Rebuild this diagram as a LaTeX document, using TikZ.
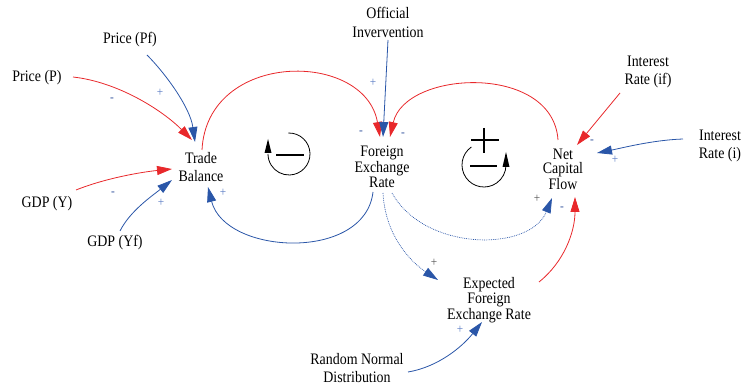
\documentclass[tikz,border=0pt]{standalone}
\usepackage{fontspec}
\setmainfont{Liberation Serif}[FakeStretch=0.87]
\usetikzlibrary{arrows.meta}
\definecolor{cdred}{HTML}{E8282B}
\definecolor{cdblue}{HTML}{2A56A8}
\definecolor{sgnblue}{HTML}{5B7CC4}
\definecolor{sgndark}{HTML}{3A5AA0}
\definecolor{sgngray}{HTML}{555555}
\begin{document}
\begin{tikzpicture}[x=1pt,y=1pt,
  lbl/.style={align=center, inner sep=0pt, text=black},
  f18/.style={font=\fontsize{16}{18}\selectfont},
  arr/.style={line width=0.8pt, -{Triangle[length=15pt,width=9pt]}},
  redarr/.style={arr, draw=cdred},
  bluearr/.style={arr, draw=cdblue},
  bluedot/.style={bluearr, densely dotted, line width=0.7pt},
  sgn/.style={inner sep=0pt, font=\fontsize{13}{13}\selectfont, text=sgnblue},
  sgnd/.style={sgn, text=sgndark},
  sgng/.style={sgn, text=sgngray},
  loopline/.style={line width=0.8pt, draw=black},
  bar/.style={line width=2pt, draw=black}
]
\useasboundingbox (0,0) rectangle (745,-385);

% variables
\node[lbl,f18] (pf) at (130,-40) {Price (Pf)};
\node[lbl,f18] (pp) at (37,-78) {Price (P)};
\node[lbl,f18] (tb) at (201,-167) {Trade\\Balance};
\node[lbl,f18] (gy) at (47,-204) {GDP (Y)};
\node[lbl,f18] (gyf) at (115,-243) {GDP (Yf)};
\node[lbl,font=\fontsize{16}{19}\selectfont] (oi) at (388,-22) {Official\\Invervention};
\node[lbl,font=\fontsize{16}{15.5}\selectfont] (fer) at (382,-167) {Foreign\\Exchange\\Rate};
\node[lbl,font=\fontsize{16}{14.5}\selectfont] (ncf) at (563,-169) {Net\\Capital\\Flow};
\node[lbl,f18] (irf) at (648,-72) {Interest\\Rate (if)};
\node[lbl,f18] (iri) at (720,-146) {Interest\\Rate (i)};
\node[lbl,font=\fontsize{16}{12.5}\selectfont] (efer) at (489,-300) {Expected\\Foreign\\Exchange Rate};
\node[lbl,f18] (rnd) at (357,-368) {Random Normal\\Distribution};

% connectors
\draw[redarr] ([shift={(36,1)}]pp.center) .. controls +(45,-5) and +(-30,30) .. ([shift={(-9,27)}]tb.center);
\draw[bluearr] ([shift={(17,-15)}]pf.center) .. controls +(18,-18) and +(-5,35) .. ([shift={(-6,25)}]tb.center);
\draw[redarr] ([shift={(29,14)}]gy.center) .. controls +(30,12) and +(-30,-3) .. ([shift={(-29,-2)}]tb.center);
\draw[bluearr] ([shift={(5,12)}]gyf.center) .. controls +(10,20) and +(-20,-16) .. ([shift={(-29,-13)}]tb.center);
\draw[redarr] ([shift={(1,17)}]tb.center) .. controls +(5,100) and +(-15,87) .. ([shift={(-2,30)}]fer.center);
\draw[bluearr] ([shift={(0,-18)}]oi.center) -- ([shift={(1,30)}]fer.center);
\draw[redarr] ([shift={(-5,29)}]ncf.center) .. controls +(-5,77) and +(15,67) .. ([shift={(8,30)}]fer.center);
\draw[bluearr] ([shift={(-9,-25)}]fer.center) .. controls +(-8,-70) and +(17,-68) .. ([shift={(7,-20)}]tb.center);
\draw[bluedot] ([shift={(10,-26)}]fer.center) .. controls +(33,-59) and +(-22,-54) .. ([shift={(-11,-29)}]ncf.center);
\draw[bluedot] ([shift={(1,-26)}]fer.center) .. controls +(2,-40) and +(-30,20) .. ([shift={(-51,20)}]efer.center);
\draw[redarr] ([shift={(50,18)}]efer.center) .. controls +(25,20) and +(0,-35) .. ([shift={(12,-28)}]ncf.center);
\draw[redarr] ([shift={(-28,-21)}]irf.center) -- ([shift={(14,24)}]ncf.center);
\draw[bluearr] ([shift={(-37,7)}]iri.center) .. controls +(-30,-1) and +(25,5) .. ([shift={(34,16)}]ncf.center);
\draw[bluearr] ([shift={(51,-4)}]rnd.center) .. controls +(30,5) and +(-20,-25) .. ([shift={(-7,-22)}]efer.center);

% polarity signs
\node[sgnd] (s1) at (112,-100) {-};
\node[sgn] (s2) at (160,-93) {+};
\node[sgnd] (s3) at (113,-194) {-};
\node[sgn] (s4) at (161,-203) {+};
\node[sgn] (s5) at (223,-193) {+};
\node[sgn] (s6) at (373,-83) {+};
\node[sgnd] (s7) at (361,-133) {-};
\node[sgnd] (s8) at (403,-135) {-};
\node[sgng] (s9) at (537,-199) {+};
\node[sgnd] (s10) at (562,-209) {-};
\node[sgng] (s11) at (434,-263) {+};
\node[sgnd] (s12) at (592,-142) {-};
\node[sgn] (s13) at (615,-160) {+};
\node[sgn] (s14) at (460,-330) {+};

% loop symbols
\coordinate (lc) at (289,-154);
\draw[loopline] (lc) ++(92:21) arc[start angle=92, end angle=-180, radius=21];
\fill[black] (264.5,-153) -- (268,-139) -- (271.5,-153) -- cycle;
\draw[bar] (276,-155) -- (304,-155);

\coordinate (rc) at (484,-165);
\draw[loopline] (rc) ++(125:22) arc[start angle=125, end angle=360, radius=22];
\fill[black] (502.5,-167) -- (506,-152) -- (509.5,-167) -- cycle;
\draw[bar] (484,-128) -- (484,-153);
\draw[bar] (471,-140) -- (499,-140);
\draw[bar] (470,-166) -- (497,-166);
\end{tikzpicture}
\end{document}
